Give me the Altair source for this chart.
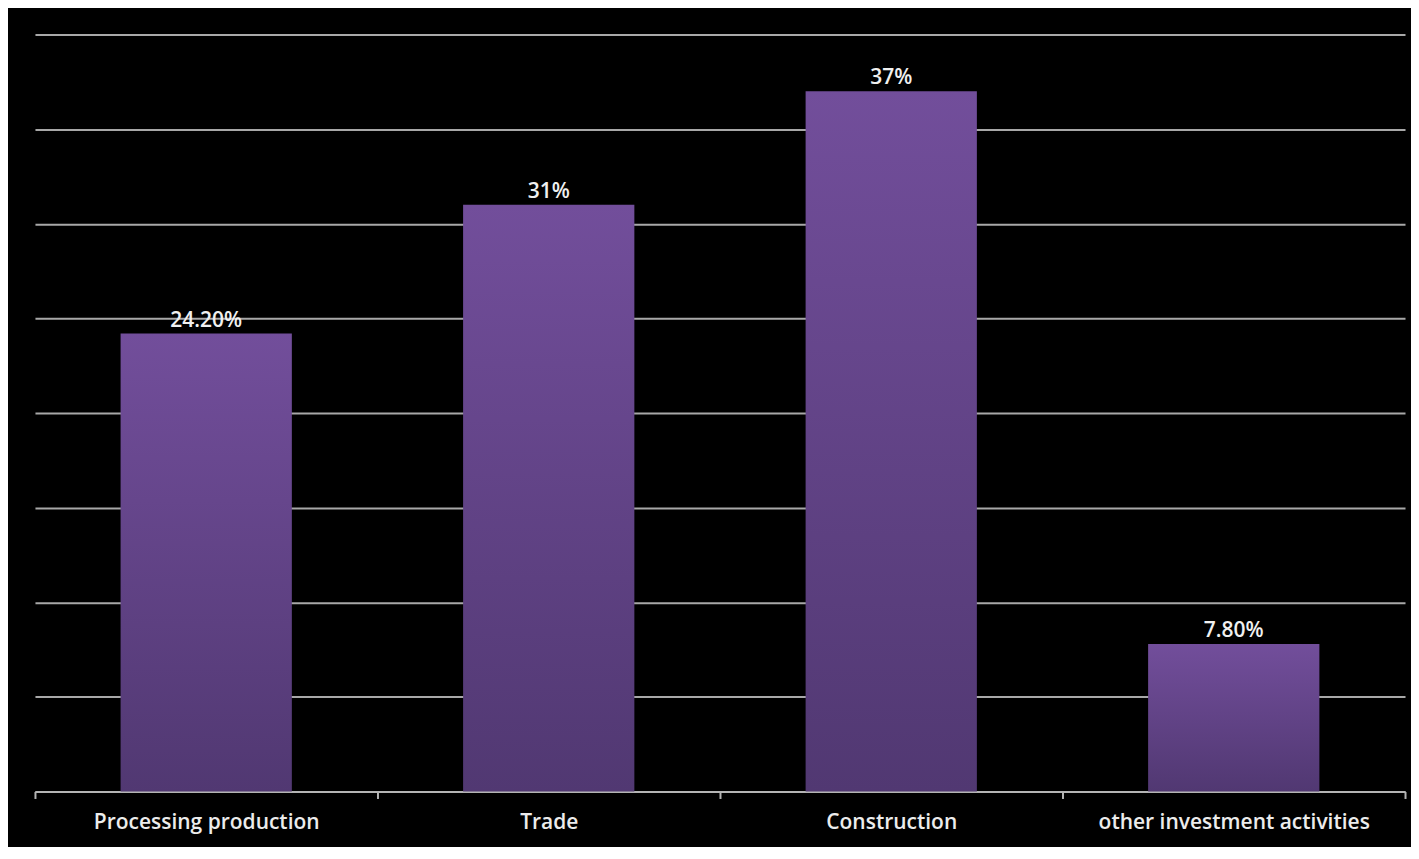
import altair as alt
import pandas as pd

categories = ["Processing production", "Trade", "Construction", "other investment activities"]
values = [24.2, 31.0, 37.0, 7.8]
value_labels = ["24.20%", "31%", "37%", "7.80%"]

df = pd.DataFrame({"category": categories, "value": values, "label": value_labels})

grad = {
    "gradient": "linear", "x1": 0, "y1": 0, "x2": 0, "y2": 1,
    "stops": [{"offset": 0, "color": "#724e9b"}, {"offset": 1, "color": "#513872"}],
}

x = alt.X("category:N", sort=categories, title=None,
          scale=alt.Scale(paddingInner=0, paddingOuter=0),
          axis=alt.Axis(labelAngle=0, tickBand="extent", grid=False,
                        domainColor="#b4b4b4", domainWidth=2, tickColor="#b4b4b4",
                        tickWidth=2, tickSize=7, labelColor="#ececec", labelFontSize=21,
                        labelFont="Open Sans", labelFontWeight=600, labelPadding=13,
                        labelLimit=0))
y = alt.Y("value:Q", title=None,
          scale=alt.Scale(domain=[0, 40], nice=False),
          axis=alt.Axis(values=[0, 5, 10, 15, 20, 25, 30, 35, 40], labels=False, ticks=False,
                        domain=False, grid=True, gridColor="#a8a8a8", gridWidth=2))

bars = alt.Chart(df).mark_bar(color=grad, width={"band": 0.5}).encode(x=x, y=y)
text = alt.Chart(df).mark_text(baseline="bottom", dy=-3, color="#f0f0f0", fontSize=21,
                               font="Open Sans", fontWeight=600).encode(
    x=alt.X("category:N", sort=categories), y="value:Q", text="label:N")

chart = (bars + text).properties(
    width=1372, height=758, background="#000000",
    padding={"left": 26, "top": 26, "right": 5, "bottom": 14},
).configure_view(stroke=None)

chart.save("out.html", embed_options={"renderer": "svg", "actions": False})
